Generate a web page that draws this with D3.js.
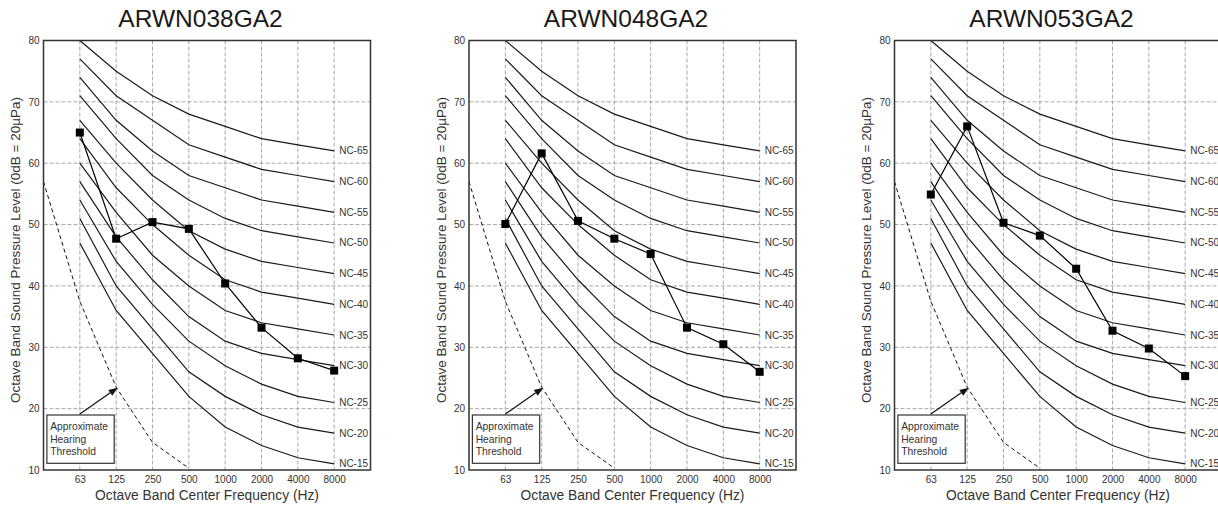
<!DOCTYPE html>
<html>
<head>
<meta charset="utf-8">
<script src="https://cdn.jsdelivr.net/npm/d3@7"></script>
<style>
  html, body { margin: 0; padding: 0; background: #fff; }
  svg { display: block; font-family: "Liberation Sans", Arial, Helvetica, sans-serif; }
</style>
</head>
<body>
<svg id="chart" width="1218" height="506"></svg>
<script>
// ---------------- data ----------------
const models = ["ARWN038GA2", "ARWN048GA2", "ARWN053GA2"];
const bands = ["63", "125", "250", "500", "1000", "2000", "4000", "8000"];
const axisBands = ["31.5", "63", "125", "250", "500", "1000", "2000", "4000", "8000"];
const yTicks = [10, 20, 30, 40, 50, 60, 70, 80];

const ncNames = ["NC-15", "NC-20", "NC-25", "NC-30", "NC-35", "NC-40", "NC-45", "NC-50", "NC-55", "NC-60", "NC-65"];
const nc15 = [47, 36, 29, 22, 17, 14, 12, 11];
const nc20 = [51, 40, 33, 26, 22, 19, 17, 16];
const nc25 = [54, 44, 37, 31, 27, 24, 22, 21];
const nc30 = [57, 48, 41, 35, 31, 29, 28, 27];
const nc35 = [60, 52, 45, 40, 36, 34, 33, 32];
const nc40 = [64, 56, 50, 45, 41, 39, 38, 37];
const nc45 = [67, 60, 54, 49, 46, 44, 43, 42];
const nc50 = [71, 64, 58, 54, 51, 49, 48, 47];
const nc55 = [74, 67, 62, 58, 56, 54, 53, 52];
const nc60 = [77, 71, 67, 63, 61, 59, 58, 57];
const nc65 = [80, 75, 71, 68, 66, 64, 63, 62];
const ncCurves = [nc15, nc20, nc25, nc30, nc35, nc40, nc45, nc50, nc55, nc60, nc65];

const thresholdBands = ["31.5", "63", "125", "250", "500"];
const thresholdValues = [57, 37.5, 23.5, 14.5, 10.3];

const spl038 = [65.0, 47.7, 50.4, 49.3, 40.4, 33.2, 28.2, 26.2];
const spl048 = [50.1, 61.6, 50.6, 47.7, 45.2, 33.2, 30.5, 26.0];
const spl053 = [54.9, 66.0, 50.3, 48.2, 42.8, 32.7, 29.8, 25.3];
const modelSeries = [spl038, spl048, spl053];

const annotationLines = ["Approximate", "Hearing", "Threshold"];
const xTitle = "Octave Band Center Frequency (Hz)";
const yTitle = "Octave Band Sound Pressure Level (0dB = 20µPa)";

// ---------------- layout ----------------
const panelLefts = [43.5, 469, 894.5];
const plotW = 327;
const plotTop = 40.5, plotBottom = 470;

const svg = d3.select("#chart");

const y = d3.scaleLinear().domain([10, 80]).range([plotBottom, plotTop]);

panelLefts.forEach((left, pi) => {
  const x = d3.scalePoint().domain(axisBands).range([0, plotW]).padding(0.5).align(0);
  const g = svg.append("g").attr("transform", `translate(${left},0)`);

  const clipId = "clip" + pi;
  g.append("clipPath").attr("id", clipId)
    .append("rect").attr("x", 0).attr("y", plotTop).attr("width", plotW).attr("height", plotBottom - plotTop);

  // grid
  g.append("g").selectAll("line.h").data(yTicks.filter(v => v > 10 && v < 80)).join("line")
    .attr("x1", 0).attr("x2", plotW)
    .attr("y1", d => y(d)).attr("y2", d => y(d))
    .attr("stroke", "#a8a8a8").attr("stroke-width", 1).attr("stroke-dasharray", "4,2");
  g.append("g").selectAll("line.v").data(bands).join("line")
    .attr("x1", d => x(d)).attr("x2", d => x(d))
    .attr("y1", plotTop).attr("y2", plotBottom)
    .attr("stroke", "#a8a8a8").attr("stroke-width", 1).attr("stroke-dasharray", "4,2");

  const line = d3.line().x(d => x(d[0])).y(d => y(d[1]));

  // NC curves
  const ncG = g.append("g");
  ncCurves.forEach((vals, ci) => {
    const pts = bands.map((b, i) => [b, vals[i]]);
    ncG.append("path").attr("d", line(pts))
      .attr("fill", "none").attr("stroke", "#1a1a1a").attr("stroke-width", 1.2);
    ncG.append("text")
      .attr("x", x("8000") + 5).attr("y", y(vals[7]))
      .attr("dy", "0.35em")
      .attr("font-size", 10).attr("fill", "#333")
      .text(ncNames[ci]);
  });

  // hearing threshold
  g.append("path")
    .attr("clip-path", `url(#${clipId})`)
    .attr("d", line(thresholdBands.map((b, i) => [b, thresholdValues[i]])))
    .attr("fill", "none").attr("stroke", "#111").attr("stroke-width", 1)
    .attr("stroke-dasharray", "4,3");

  // annotation box + arrow
  const boxX = 3.4, boxY = 415, boxW = 67.3, boxH = 48.3;
  g.append("rect").attr("x", boxX).attr("y", boxY).attr("width", boxW).attr("height", boxH)
    .attr("fill", "#fff").attr("stroke", "#333").attr("stroke-width", 1.2);
  g.append("g").selectAll("text").data(annotationLines).join("text")
    .attr("x", boxX + 3.3).attr("y", (d, i) => 430 + i * 12.7)
    .attr("font-size", 10.3).attr("fill", "#333")
    .text(d => d);

  const ax0 = x("63"), ay0 = boxY - 1;
  const ax1 = x("125") + 1.5, ay1 = y(thresholdValues[2]) + 0.5;
  const ang = Math.atan2(ay1 - ay0, ax1 - ax0);
  const hl = 9, hw = 3.5;
  const bx = ax1 - hl * Math.cos(ang), by = ay1 - hl * Math.sin(ang);
  g.append("line").attr("x1", ax0).attr("y1", ay0).attr("x2", bx).attr("y2", by)
    .attr("stroke", "#111").attr("stroke-width", 1.2);
  g.append("path")
    .attr("d", `M${ax1},${ay1} L${bx + hw * Math.sin(ang)},${by - hw * Math.cos(ang)} L${bx - hw * Math.sin(ang)},${by + hw * Math.cos(ang)} Z`)
    .attr("fill", "#111");

  // model data
  const data = bands.map((b, i) => [b, modelSeries[pi][i]]);
  g.append("path").attr("d", line(data))
    .attr("fill", "none").attr("stroke", "#000").attr("stroke-width", 1.2);
  g.append("g").selectAll("rect").data(data).join("rect")
    .attr("x", d => x(d[0]) - 4).attr("y", d => y(d[1]) - 4)
    .attr("width", 8).attr("height", 8).attr("fill", "#000");

  // border
  g.append("rect").attr("x", 0).attr("y", plotTop).attr("width", plotW).attr("height", plotBottom - plotTop)
    .attr("fill", "none").attr("stroke", "#333").attr("stroke-width", 1.5);

  // axes
  const yAxis = g.append("g").call(d3.axisLeft(y).tickValues(yTicks).tickSize(0).tickPadding(4));
  yAxis.select(".domain").remove();
  yAxis.selectAll("text").attr("font-size", 10).attr("fill", "#333").attr("font-family", null);

  const xAxis = g.append("g").attr("transform", `translate(0,${plotBottom})`)
    .call(d3.axisBottom(x).tickValues(bands).tickSize(0).tickPadding(6));
  xAxis.select(".domain").remove();
  xAxis.selectAll("text").attr("font-size", 10).attr("fill", "#333").attr("font-family", null);

  // titles
  g.append("text").attr("x", 157).attr("y", 26.5).attr("text-anchor", "middle")
    .attr("font-size", 24.5).attr("fill", "#1a1a1a").text(models[pi]);
  g.append("text").attr("x", plotW / 2).attr("y", 499.5).attr("text-anchor", "middle")
    .attr("font-size", 13.8).attr("fill", "#333").text(xTitle);
  g.append("text")
    .attr("transform", `translate(${-23.5},${250}) rotate(-90)`)
    .attr("text-anchor", "middle")
    .attr("font-size", 13.5).attr("fill", "#333").text(yTitle);
});
</script>
</body>
</html>
